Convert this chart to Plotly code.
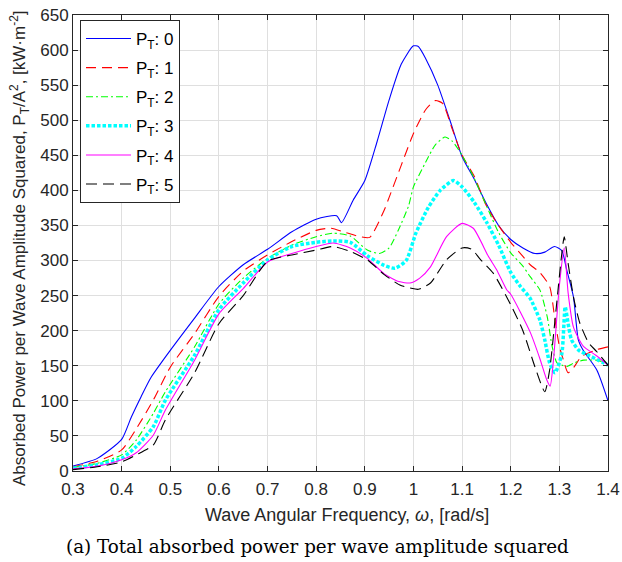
import plotly.graph_objects as go

# ---------------- data ----------------
w0 = [0.30, 0.35, 0.40, 0.42, 0.44, 0.46, 0.50, 0.55, 0.60, 0.65, 0.70, 0.75, 0.80, 0.842, 0.852,
      0.876, 0.90, 0.925, 0.95, 0.975, 1.00, 1.01, 1.025, 1.05, 1.075, 1.10, 1.125, 1.15, 1.175,
      1.20, 1.225, 1.25, 1.27, 1.29, 1.305, 1.315, 1.329, 1.339, 1.349, 1.377, 1.40]
p0 = [7, 18, 45, 77, 106, 133, 172, 218, 263, 294, 316, 341, 359, 364, 354,
      386, 414, 469, 529, 580, 606, 605, 588, 550, 500, 448, 416, 381, 350,
      330, 318, 310, 312, 320, 314, 287, 248, 187, 172, 144, 100]

w1 = [0.30, 0.35, 0.40, 0.43, 0.465, 0.50, 0.55, 0.60, 0.65, 0.70, 0.75, 0.80, 0.83, 0.86, 0.89,
      0.91, 0.94, 0.95, 0.975, 1.00, 1.025, 1.045, 1.06, 1.08, 1.10, 1.125, 1.15, 1.175, 1.20,
      1.225, 1.24, 1.26, 1.28, 1.291, 1.30, 1.308, 1.318, 1.33, 1.345, 1.377, 1.40]
p1 = [6, 14, 30, 60, 101, 148, 196, 249, 285, 308, 327, 343, 346, 340, 334,
      333, 372, 390, 436, 481, 515, 528, 524, 487, 450, 420, 378, 350, 326,
      306, 294, 283, 263, 215, 178, 159, 140, 148, 163, 173, 177]

w2 = [0.30, 0.35, 0.40, 0.43, 0.465, 0.49, 0.55, 0.60, 0.65, 0.70, 0.75, 0.80, 0.835, 0.87, 0.905,
      0.93, 0.95, 0.97, 0.99, 1.00, 1.025, 1.045, 1.065, 1.08, 1.10, 1.125, 1.15, 1.175, 1.20,
      1.225, 1.24, 1.26, 1.275, 1.285, 1.295, 1.305, 1.315, 1.33, 1.35, 1.375, 1.40]
p2 = [5, 11, 23, 44, 82, 113, 177, 238, 275, 303, 322, 334, 339, 335, 315,
      310, 318, 345, 378, 405, 440, 465, 476, 470, 450, 417, 378, 340, 311,
      292, 277, 258, 220, 178, 154, 151, 149, 154, 158, 158, 154]

w3 = [0.30, 0.35, 0.40, 0.43, 0.465, 0.49, 0.55, 0.60, 0.65, 0.70, 0.75, 0.80, 0.835, 0.87, 0.905,
      0.94, 0.962, 0.985, 1.005, 1.03, 1.055, 1.082, 1.10, 1.125, 1.15, 1.175, 1.20, 1.22, 1.24,
      1.26, 1.27, 1.28, 1.291, 1.305, 1.312, 1.318, 1.325, 1.34, 1.36, 1.38, 1.40]
p3 = [4, 9, 18, 35, 63, 101, 165, 230, 268, 301, 320, 326, 328, 326, 307,
      293, 289, 300, 339, 375, 400, 414, 405, 383, 355, 322, 283, 263, 246,
      215, 187, 154, 140, 167, 234, 210, 187, 172, 165, 158, 151]

w4 = [0.30, 0.35, 0.40, 0.43, 0.465, 0.49, 0.55, 0.60, 0.65, 0.70, 0.75, 0.80, 0.835, 0.87, 0.905,
      0.94, 0.97, 0.993, 1.013, 1.035, 1.068, 1.10, 1.123, 1.154, 1.171, 1.192, 1.20, 1.24, 1.26,
      1.274, 1.281, 1.288, 1.30, 1.31, 1.318, 1.329, 1.349, 1.375, 1.40]
p4 = [3, 7, 16, 26, 51, 87, 158, 224, 260, 298, 310, 320, 325, 318, 303,
      281, 270, 268, 275, 291, 334, 353, 346, 306, 287, 258, 252, 198, 160,
      130, 121, 159, 264, 318, 254, 205, 178, 165, 151]

w5 = [0.30, 0.35, 0.40, 0.43, 0.465, 0.49, 0.55, 0.60, 0.65, 0.70, 0.75, 0.80, 0.835, 0.87, 0.905,
      0.94, 0.972, 0.993, 1.01, 1.035, 1.068, 1.10, 1.12, 1.137, 1.164, 1.20, 1.225, 1.25, 1.27,
      1.28, 1.291, 1.305, 1.31, 1.318, 1.329, 1.342, 1.36, 1.377, 1.40]
p5 = [2, 6, 13, 23, 37, 73, 140, 210, 250, 299, 308, 315, 320, 313, 301,
      280, 265, 261, 259, 268, 301, 318, 316, 302, 282, 237, 200, 148, 113,
      144, 215, 310, 334, 296, 248, 211, 183, 170, 151]

series_names = ["P<sub>T</sub>: 0", "P<sub>T</sub>: 1", "P<sub>T</sub>: 2",
                "P<sub>T</sub>: 3", "P<sub>T</sub>: 4", "P<sub>T</sub>: 5"]

x_ticks = [0.3, 0.4, 0.5, 0.6, 0.7, 0.8, 0.9, 1.0, 1.1, 1.2, 1.3, 1.4]
x_tick_labels = ["0.3", "0.4", "0.5", "0.6", "0.7", "0.8", "0.9", "1", "1.1", "1.2", "1.3", "1.4"]
y_ticks = list(range(0, 651, 50))

x_title = "Wave Angular Frequency, <i>ω</i>, [rad/s]"
y_title = "Absorbed Power per Wave Amplitude Squared, P<sub>T</sub>/A<sup>2</sup>, [kW·m<sup>-2</sup>]"
caption = "(a) Total absorbed power per wave amplitude squared"

# ---------------- styles ----------------
styles = [
    dict(color="#0000FF", width=1.1, dash="solid"),
    dict(color="#FF0000", width=1.1, dash="10px,6px"),
    dict(color="#00FF00", width=1.1, dash="7px,3px,2px,3px"),
    dict(color="#00FFFF", width=3.5, dash="3.5px,2px"),
    dict(color="#FF00FF", width=1.1, dash="solid"),
    dict(color="#000000", width=1.1, dash="11px,6px"),
]

xs = [w0, w1, w2, w3, w4, w5]
ys = [p0, p1, p2, p3, p4, p5]

fig = go.Figure()
for i in range(6):
    fig.add_trace(go.Scatter(
        x=xs[i], y=ys[i], mode="lines", name=series_names[i],
        legendgroup="g%d" % i,
        line=dict(shape="spline", smoothing=0.6, **styles[i]),
    ))

font_family = "Liberation Sans, Arial, sans-serif"
W, H = 622, 562
L, R, T, B = 73, 14, 15, 91
pw, ph = W - L - R, H - T - B


def px_to_paper_x(px):
    return (px - L) / pw


def px_to_paper_y(py):
    return (H - B - py) / ph


fig.update_layout(
    width=W, height=H,
    margin=dict(l=L, r=R, t=T, b=B, autoexpand=False),
    paper_bgcolor="white", plot_bgcolor="white",
    font=dict(family=font_family, size=17, color="#262626"),
    showlegend=True,
    legend=dict(
        x=px_to_paper_x(80), y=px_to_paper_y(20), xanchor="left", yanchor="top",
        bgcolor="white", bordercolor="#262626", borderwidth=1,
        font=dict(family=font_family, size=17, color="#000000"),
        tracegroupgap=4, itemwidth=45,
    ),
    xaxis=dict(
        range=[0.3, 1.4], tickmode="array", tickvals=x_ticks, ticktext=x_tick_labels,
        showgrid=True, gridcolor="#dfdfdf", gridwidth=1,
        showline=True, linecolor="#262626", linewidth=1, mirror="allticks",
        ticks="inside", ticklen=5, tickcolor="#262626",
        zeroline=False, tickfont=dict(size=17), automargin=False,
        ticklabelstandoff=3,
    ),
    yaxis=dict(
        range=[0, 650], tickmode="array", tickvals=y_ticks,
        showgrid=True, gridcolor="#dfdfdf", gridwidth=1,
        showline=True, linecolor="#262626", linewidth=1, mirror="allticks",
        ticks="inside", ticklen=5, tickcolor="#262626",
        zeroline=False, tickfont=dict(size=17), automargin=False,
    ),
    annotations=[
        dict(text=x_title, xref="paper", yref="paper",
             x=px_to_paper_x(347), y=px_to_paper_y(515),
             xanchor="center", yanchor="middle", showarrow=False,
             font=dict(family=font_family, size=18, color="#262626")),
        dict(text=y_title, xref="paper", yref="paper", textangle=-90,
             x=px_to_paper_x(19), y=px_to_paper_y(248),
             xanchor="center", yanchor="middle", showarrow=False,
             font=dict(family=font_family, size=17, color="#262626")),
        dict(text=caption, xref="paper", yref="paper",
             x=px_to_paper_x(317), y=px_to_paper_y(546),
             xanchor="center", yanchor="middle", showarrow=False,
             font=dict(family="DejaVu Serif, serif", size=18.3, color="#000000")),
    ],
)

fig.write_html("out.html")
